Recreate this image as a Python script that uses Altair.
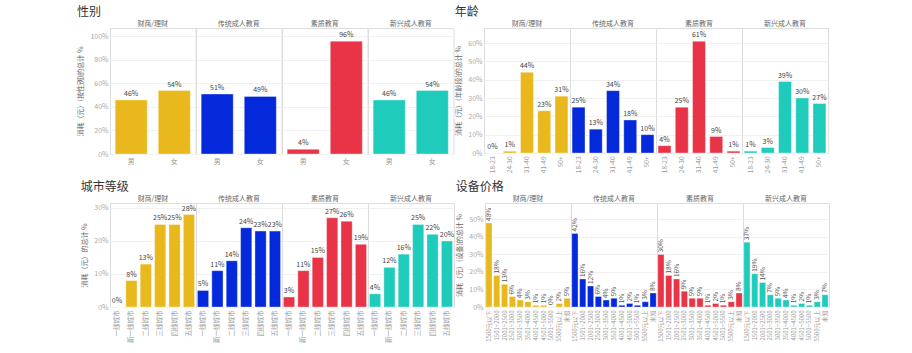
import altair as alt
import pandas as pd

categories = ["财商/理财", "传统成人教育", "素质教育", "新兴成人教育"]
colors = ["#E9B81C", "#0329DB", "#E83446", "#1FCCBC"]

gender_labels = ["男", "女"]
gender_values = [[46, 54], [51, 49], [4, 96], [46, 54]]

age_labels = ["18-23", "24-30", "31-40", "41-49", "50+"]
age_values = [[0, 1, 44, 23, 31], [25, 13, 34, 18, 10], [4, 25, 61, 9, 1], [1, 3, 39, 30, 27]]

city_labels = ["一线城市", "新一线城市", "二线城市", "三线城市", "四线城市", "五线城市"]
city_values = [[0, 8, 13, 25, 25, 28], [5, 11, 14, 24, 23, 23], [3, 11, 15, 27, 26, 19], [4, 12, 16, 25, 22, 20]]

price_labels = ["1500元以下", "1501~2000", "2001~2500", "2501~3000", "3001~3500", "3501~4000",
                "4001~4500", "4501~5000", "5001~5500", "5500元以上", "未知"]
price_values = [[48, 18, 13, 6, 4, 3, 1, 1, 0, 2, 5],
                [42, 16, 12, 6, 4, 5, 1, 2, 1, 3, 8],
                [30, 18, 16, 9, 5, 5, 1, 2, 1, 3, 8],
                [37, 19, 14, 7, 5, 4, 1, 2, 1, 3, 7]]

FONT = "Noto Sans CJK SC"


def section(title, labels, values, ytitle, ymax, ticks, height, xangle, rotate_text,
            pad_in, pad_out, xfont, cell_w):
    rows = []
    for ci, cat in enumerate(categories):
        for li, lab in enumerate(labels):
            rows.append({"cat": cat, "lab": lab, "v": values[ci][li] / 100})
    df = pd.DataFrame(rows)

    x = alt.X("lab:N", sort=labels, title=None,
              scale=alt.Scale(paddingInner=pad_in, paddingOuter=pad_out),
              axis=alt.Axis(labelAngle=xangle, labelFontSize=xfont, labelColor="#999",
                            labelPadding=3, domain=True, domainColor="#d6d6d6",
                            ticks=False, grid=False, labelOverlap=False))
    y = alt.Y("v:Q", title=ytitle,
              scale=alt.Scale(domain=[0, ymax], nice=False, zero=True),
              axis=alt.Axis(format=".0%", values=ticks, labelFontSize=7, labelColor="#aaa",
                            titleFontSize=7, titleColor="#666", titleFontWeight="normal",
                            titlePadding=6, labelPadding=2, domain=False, ticks=False,
                            gridColor="#f1f1f1"))
    bars = alt.Chart().mark_bar(stroke="white", strokeWidth=0.6, strokeOpacity=0.6).encode(
        x=x, y=y,
        color=alt.Color("cat:N", scale=alt.Scale(domain=categories, range=colors), legend=None))
    if rotate_text:
        txt = alt.Chart().mark_text(angle=270, align="left", baseline="middle", dx=2,
                                    fontSize=6.5, color="#555", font=FONT)
    else:
        txt = alt.Chart().mark_text(align="center", baseline="bottom", dy=-3,
                                    fontSize=7, color="#444", font=FONT)
    txt = txt.encode(x=x, y=y, text=alt.Text("v:Q", format=".0%"))
    layer = alt.layer(bars, txt, data=df).properties(width=cell_w, height=height)
    return layer.facet(
        column=alt.Column("cat:N", sort=categories, title=None,
                          header=alt.Header(labelFontSize=7, labelColor="#666", labelPadding=1,
                                            labelFont=FONT)),
        spacing=0,
        bounds="flush",
    ).properties(title=alt.TitleParams(title, anchor="start", fontSize=12, color="#333",
                                       font=FONT, fontWeight="normal", offset=1))


gender = section("性别", gender_labels, gender_values, "消耗（元）(按性别)的总计 %", 1.072,
                 [0, 0.2, 0.4, 0.6, 0.8, 1.0], 126, 0, False, 0.256, 0.12, 7, 85.5)
age = section("年龄", age_labels, age_values, "消耗（元）(年龄段)的总计 %", 0.682,
              [0, 0.1, 0.2, 0.3, 0.4, 0.5, 0.6], 125, -90, False, 0.25, 0.12, 6.5, 86)
city = section("城市等级", city_labels, city_values, "消耗（元）的总计 %", 0.315,
               [0, 0.1, 0.2, 0.3], 104, -90, False, 0.22, 0.1, 6.5, 86)
price = section("设备价格", price_labels, price_values, "消耗（元）(设备)的总计 %", 0.594,
                [0, 0.1, 0.2, 0.3, 0.4, 0.5], 104, -90, True, 0.2, 0.1, 6, 86)

chart = alt.vconcat(
    alt.hconcat(gender, age, spacing=0),
    alt.hconcat(city, price, spacing=0),
    spacing=8,
).properties(
    padding={"left": 76, "top": 6, "right": 5, "bottom": 2},
    background="white",
).configure_view(
    stroke="#e3e3e3", strokeWidth=1
).configure(
    font=FONT
)

chart.save("out.html", embed_options={"renderer": "svg", "actions": False})
